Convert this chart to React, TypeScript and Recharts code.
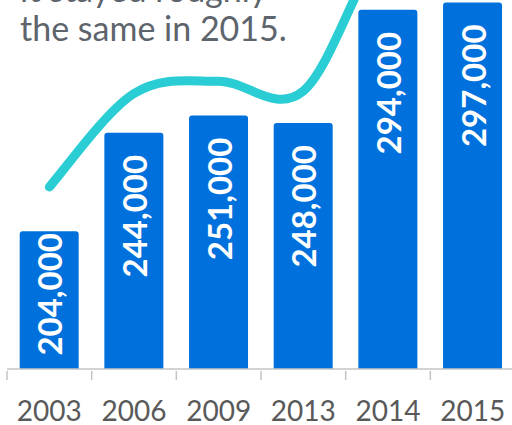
import { Bar, Line, XAxis, YAxis, LabelList, ComposedChart } from 'recharts'

const years = ['2003', '2006', '2009', '2013', '2014', '2015']
const workers = [204000, 244000, 251000, 248000, 294000, 297000]
const trend = [222000, 260000, 265000, 261000, 322000, 330000]

const data = years.map((year, i) => ({ year, workers: workers[i], trend: trend[i] }))

const BAR_BLUE = '#0071DC'
const TEAL = '#29CDD3'
const FONT = 'Lato, "Open Sans", sans-serif'

// office-style smoothed line (catmull-rom through every point)
function smoothCurve(context: any) {
  let pts: [number, number][] = []
  return {
    areaStart() {},
    areaEnd() {},
    lineStart() {
      pts = []
    },
    point(x: number, y: number) {
      pts.push([+x, +y])
    },
    lineEnd() {
      if (!pts.length) return
      context.moveTo(pts[0][0], pts[0][1])
      for (let i = 0; i < pts.length - 1; i++) {
        const p0 = pts[i - 1] ?? pts[i]
        const p1 = pts[i]
        const p2 = pts[i + 1]
        const p3 = pts[i + 2] ?? pts[i + 1]
        context.bezierCurveTo(
          p1[0] + (p2[0] - p0[0]) / 6,
          p1[1] + (p2[1] - p0[1]) / 6,
          p2[0] - (p3[0] - p1[0]) / 6,
          p2[1] - (p3[1] - p1[1]) / 6,
          p2[0],
          p2[1],
        )
      }
    },
  }
}

function YearTick(props: any) {
  const { x, y, payload } = props
  const half = payload?.offset ?? 42
  return (
    <g>
      <line x1={x - half} x2={x - half} y1={y} y2={y + 9} stroke="#c4c4c4" strokeWidth={1.5} />
      <text x={x} y={y + 50} textAnchor="middle" fontSize={28} fontFamily={FONT} fill="#595959">
        {payload.value}
      </text>
    </g>
  )
}

function ValueLabel(props: any) {
  const { x, y, width, height, value } = props
  const cx = x + width / 2
  const gap = Math.min(22, height - 136)
  const ty = y + gap
  return (
    <text
      x={cx}
      y={ty}
      transform={`rotate(-90 ${cx} ${ty})`}
      textAnchor="end"
      dominantBaseline="central"
      fontSize={33}
      fontWeight={700}
      fontFamily={FONT}
      fill="#ffffff"
    >
      {Number(value).toLocaleString('en-US')}
    </text>
  )
}

export default function App() {
  return (
    <div style={{ position: 'absolute', left: 0, top: 0, width: 512, height: 425, overflow: 'hidden', background: '#fff' }}>
      <ComposedChart
        width={515}
        height={425}
        data={data}
        margin={{ top: 0, right: 0, bottom: 0, left: 7 }}
        barCategoryGap="15%"
      >
        <XAxis
          dataKey="year"
          height={56}
          axisLine={{ stroke: '#c4c4c4', strokeWidth: 1.5 }}
          tickLine={false}
          tickSize={0}
          tick={<YearTick />}
          interval={0}
        />
        <YAxis hide domain={[148000, 298000]} allowDataOverflow />
        <Bar dataKey="workers" fill={BAR_BLUE} radius={[3, 3, 0, 0]} isAnimationActive={false}>
          <LabelList dataKey="workers" content={<ValueLabel />} />
        </Bar>
        <Line
          dataKey="trend"
          type={smoothCurve as any}
          stroke={TEAL}
          strokeWidth={9}
          strokeLinecap="round"
          dot={false}
          activeDot={false}
          isAnimationActive={false}
        />
      </ComposedChart>
      <div
        style={{
          position: 'absolute',
          left: 20,
          top: -31,
          fontFamily: FONT,
          fontSize: 34,
          lineHeight: '39px',
          color: '#5d646c',
          whiteSpace: 'nowrap',
        }}
      >
        it stayed roughly
        <br />
        the same in 2015.
      </div>
    </div>
  )
}
